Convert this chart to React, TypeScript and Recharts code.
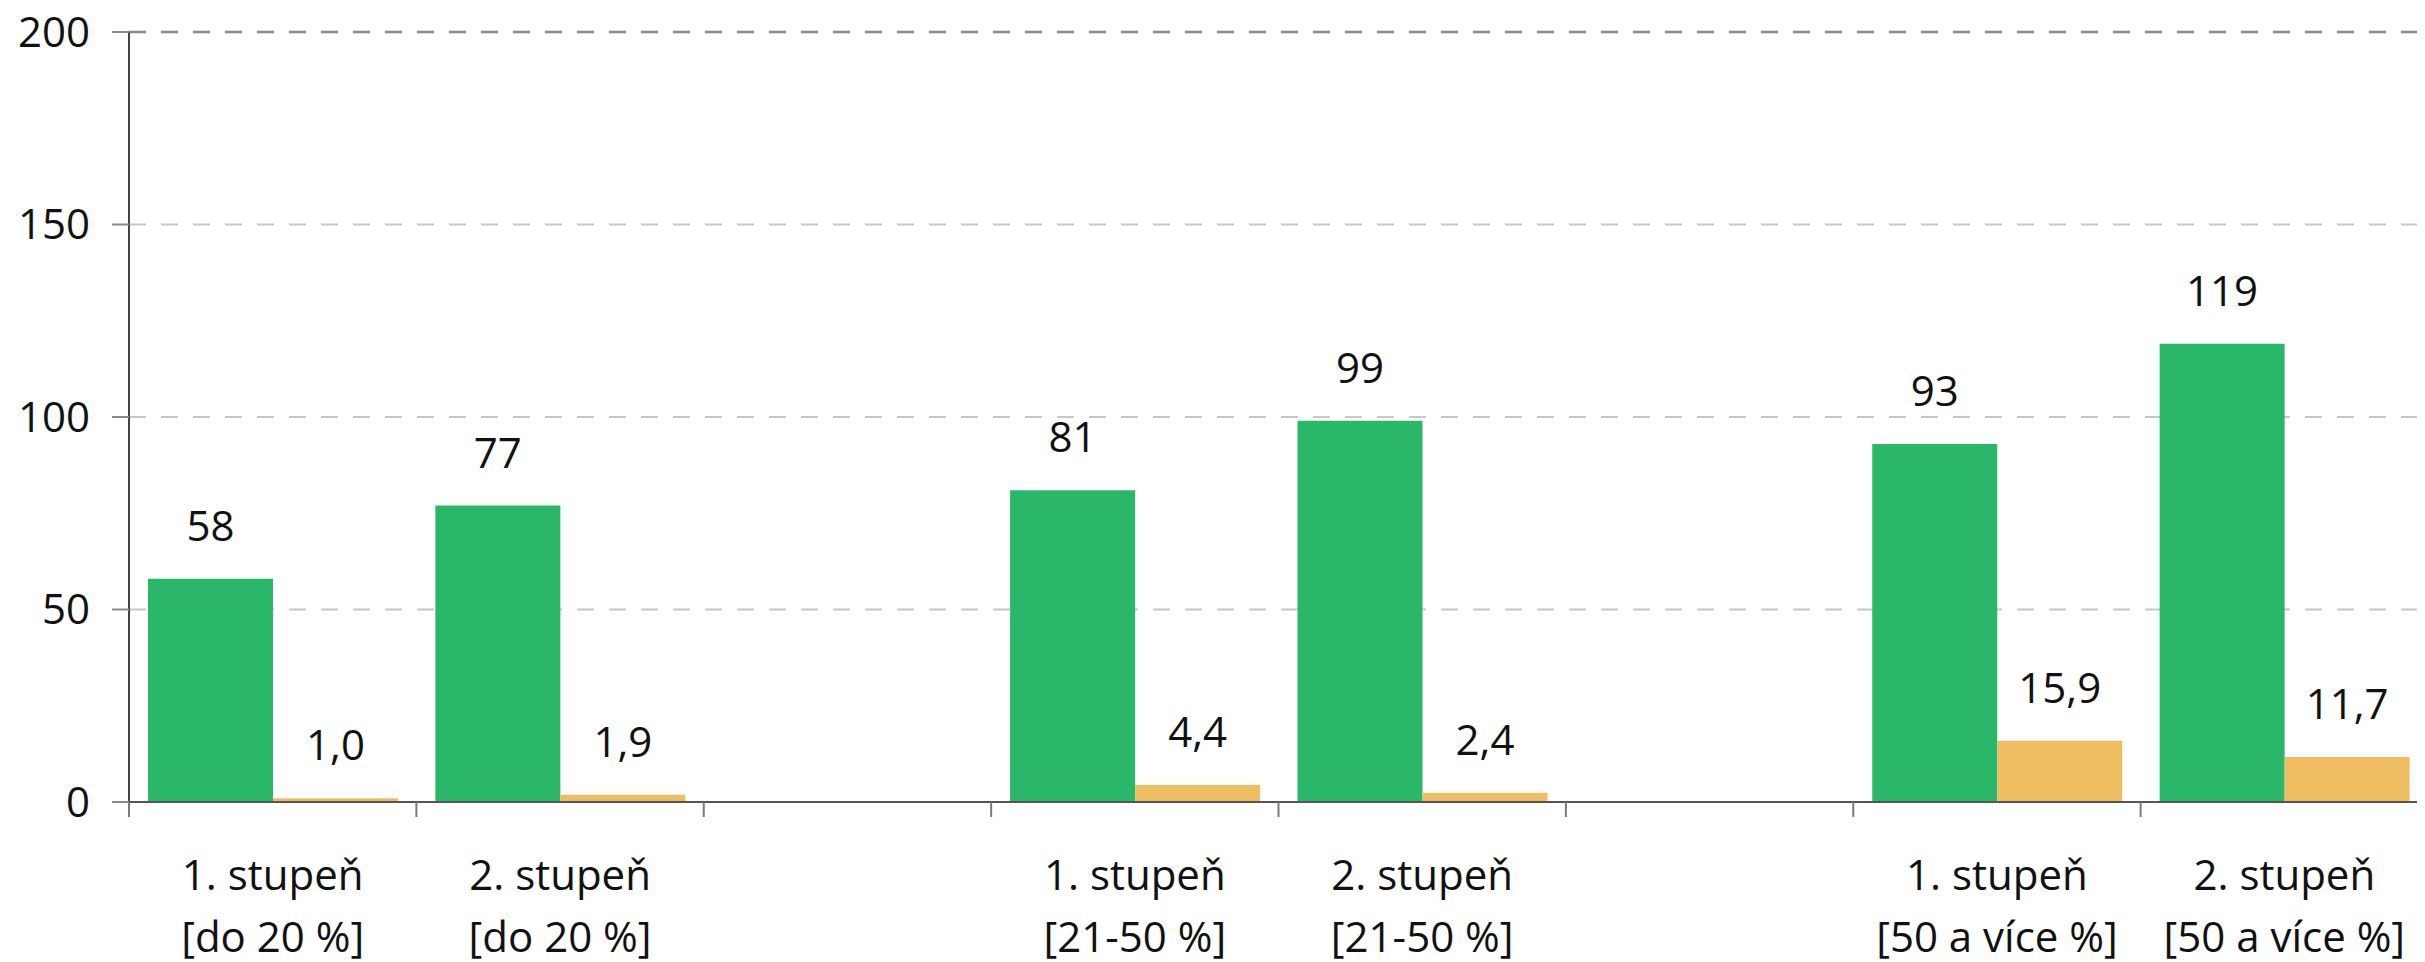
import React from 'react'
import {
  BarChart,
  Bar,
  XAxis,
  YAxis,
  CartesianGrid,
  ReferenceLine,
  LabelList,
} from 'recharts'

// category slots (empty slots keep the gaps between the three groups)
const LINE1 = ['1. stupeň', '2. stupeň', '', '1. stupeň', '2. stupeň', '', '1. stupeň', '2. stupeň']
const LINE2 = ['[do 20 %]', '[do 20 %]', '', '[21-50 %]', '[21-50 %]', '', '[50 a více %]', '[50 a více %]']
const GREEN = [58, 77, null, 81, 99, null, 93, 119]
const ORANGE = [1.0, 1.9, null, 4.4, 2.4, null, 15.9, 11.7]
const Y_TICKS = [0, 50, 100, 150, 200]

const data = LINE1.map((l1, i) => ({
  key: `c${i}`,
  line1: l1,
  line2: LINE2[i],
  green: GREEN[i],
  orange: ORANGE[i],
}))

const FONT = '"Open Sans", sans-serif'
const FS = 42

const fmtInt = (v: any) => (v == null ? '' : String(v))
const fmtDec = (v: any) => (v == null ? '' : Number(v).toFixed(1).replace('.', ','))

function CategoryTick(props: any) {
  const { x, y, payload, index, width } = props
  const half = payload?.offset ?? width / LINE1.length / 2
  return (
    <g>
      <line x1={x - half} x2={x - half} y1={y} y2={y + 15} stroke="#7a7a7a" strokeWidth={2} />
      <text x={x} y={y} textAnchor="middle" fontSize={FS} fontFamily={FONT} fill="#111">
        <tspan x={x} dy={88}>{LINE1[index]}</tspan>
        <tspan x={x} dy={62}>{LINE2[index]}</tspan>
      </text>
    </g>
  )
}

export default function App() {
  return (
    <div style={{ width: 2417, overflow: 'hidden', fontFamily: FONT }}>
      <BarChart
        width={2420}
        height={954}
        data={data}
        margin={{ top: 24, right: 0, left: 0, bottom: 0 }}
        barCategoryGap={19}
        barGap={0}
      >
        <CartesianGrid vertical={false} stroke="#c8c8c8" strokeWidth={2} strokeDasharray="17 15" />
        <ReferenceLine y={200} stroke="#8a8a8a" strokeWidth={2.5} strokeDasharray="17 15" />
        <XAxis
          dataKey="key"
          height={160}
          interval={0}
          tickLine={false}
          tickSize={0}
          tickMargin={0}
          axisLine={{ stroke: '#555', strokeWidth: 2 }}
          tick={<CategoryTick />}
        />
        <YAxis
          width={121}
          domain={[0, 200]}
          ticks={Y_TICKS}
          interval={0}
          tickSize={17}
          tickMargin={22}
          axisLine={{ stroke: '#444', strokeWidth: 2 }}
          tickLine={{ stroke: '#8a8a8a', strokeWidth: 2 }}
          tick={{ fontSize: FS, fill: '#111', fontFamily: FONT }}
        />
        <Bar dataKey="green" fill="#2ab769" isAnimationActive={false}>
          <LabelList
            dataKey="green"
            position="top"
            offset={38}
            formatter={fmtInt}
            style={{ fontSize: FS, fill: '#111', fontFamily: FONT }}
          />
        </Bar>
        <Bar dataKey="orange" fill="#efbe63" isAnimationActive={false}>
          <LabelList
            dataKey="orange"
            position="top"
            offset={38}
            formatter={fmtDec}
            style={{ fontSize: FS, fill: '#111', fontFamily: FONT }}
          />
        </Bar>
      </BarChart>
    </div>
  )
}
